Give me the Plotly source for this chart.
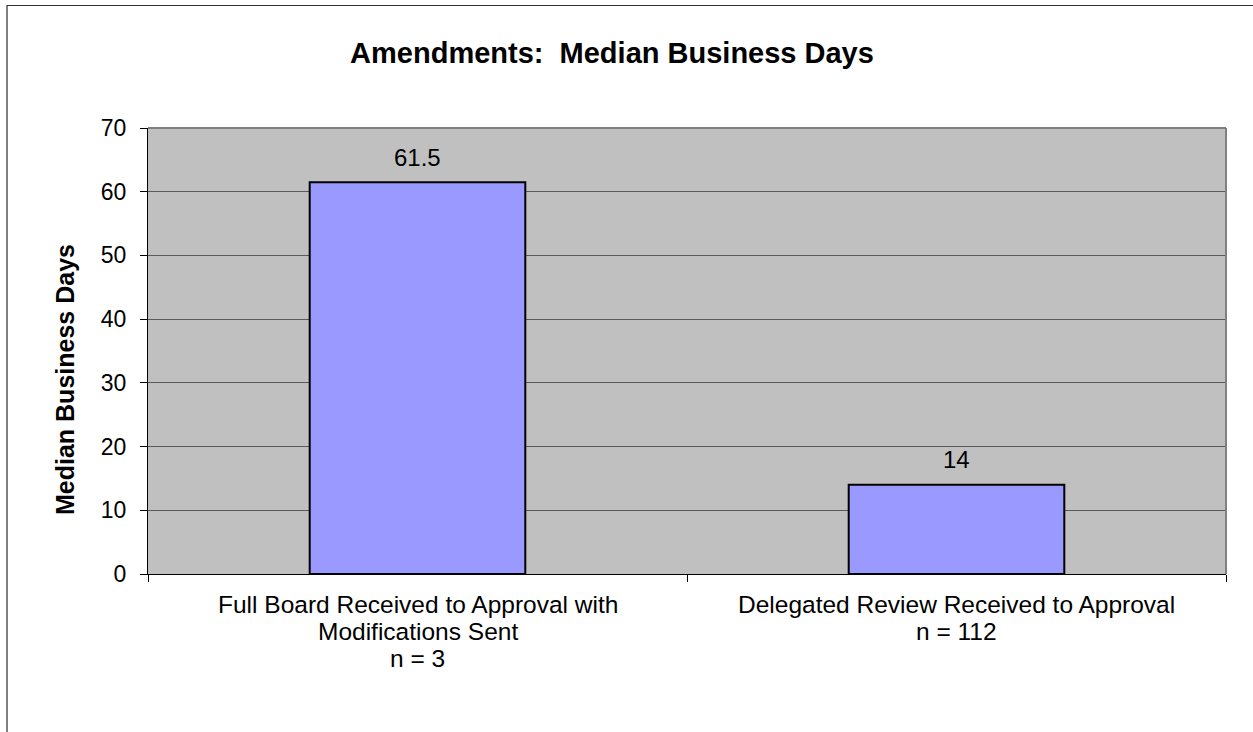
import plotly.graph_objects as go

# Chart data
categories = ["Full Board", "Delegated Review"]
category_lines = [
    ["Full Board Received to Approval with", "Modifications Sent", "n = 3"],
    ["Delegated Review Received to Approval", "n = 112"],
]
median_days = [61.5, 14]
value_labels = ["61.5", "14"]
y_ticks = [0, 10, 20, 30, 40, 50, 60, 70]

W, H = 1253, 732
L, R, T, B = 148, 1226, 128, 574  # plot area in pixels
FONT = "Liberation Sans, Arial, sans-serif"


def px_x(px):
    return (px - L) / (R - L)


def px_y(py):
    return (B - py) / (B - T)


fig = go.Figure()
fig.add_trace(go.Bar(
    x=categories,
    y=median_days,
    width=0.4,
    marker=dict(color="#9999FF", line=dict(color="#000000", width=2)),
    hoverinfo="y",
))

# value labels above bars
for cat, val, lab in zip(categories, median_days, value_labels):
    fig.add_annotation(
        x=cat, y=val, text=lab, showarrow=False,
        yanchor="middle", yshift=25,
        font=dict(family=FONT, size=24, color="#000000"),
    )

# category labels, one line at a time for tight line spacing
for cat, lines in zip(categories, category_lines):
    for i, line in enumerate(lines):
        fig.add_annotation(
            x=cat, xref="x", yref="paper", y=px_y(604 + 27 * i),
            text=line, showarrow=False, xanchor="center", yanchor="middle",
            font=dict(family=FONT, size=24.5, color="#000000"),
        )

# y-axis title
fig.add_annotation(
    xref="paper", yref="paper", x=px_x(65), y=px_y(380),
    text="<b>Median Business Days</b>", textangle=-90, showarrow=False,
    xanchor="center", yanchor="middle",
    font=dict(family=FONT, size=25, color="#000000"),
)

# plot-area border (gray, top and right)
fig.add_shape(type="line", xref="paper", yref="paper", x0=0, x1=1, y0=1, y1=1,
              line=dict(color="#808080", width=2), layer="above")
fig.add_shape(type="line", xref="paper", yref="paper", x0=1, x1=1, y0=0, y1=1,
              line=dict(color="#808080", width=2), layer="above")

# outer chart frame (left and top edges)
fig.add_shape(type="line", xref="paper", yref="paper",
              x0=px_x(7), x1=px_x(7), y0=px_y(5), y1=px_y(740),
              line=dict(color="#808080", width=2))
fig.add_shape(type="line", xref="paper", yref="paper",
              x0=px_x(7), x1=px_x(1260), y0=px_y(5.5), y1=px_y(5.5),
              line=dict(color="#303030", width=1))

fig.update_layout(
    width=W, height=H,
    margin=dict(l=L, r=W - R, t=T, b=H - B, pad=0),
    paper_bgcolor="#FFFFFF",
    plot_bgcolor="#C0C0C0",
    showlegend=False,
    font=dict(family=FONT, color="#000000"),
    title=dict(
        text="<b>Amendments:  Median Business Days</b>",
        x=612 / W, xanchor="center", xref="container",
        y=1 - 53 / H, yanchor="middle", yref="container",
        font=dict(family=FONT, size=29, color="#000000"),
    ),
)

fig.update_xaxes(
    showline=True, linecolor="#000000", linewidth=1,
    ticks="outside", ticklen=7, tickcolor="#000000", tickwidth=1,
    tickson="boundaries", showgrid=False, showticklabels=False,
)
fig.update_yaxes(
    range=[0, 70], tickvals=y_ticks,
    showline=True, linecolor="#000000", linewidth=1,
    ticks="outside", ticklen=7, tickcolor="#000000", tickwidth=1,
    showgrid=True, gridcolor="#5A5A5A", gridwidth=1,
    zeroline=False,
    tickfont=dict(family=FONT, size=23, color="#000000"),
    ticklabelstandoff=9,
)

fig.write_html("out.html")
